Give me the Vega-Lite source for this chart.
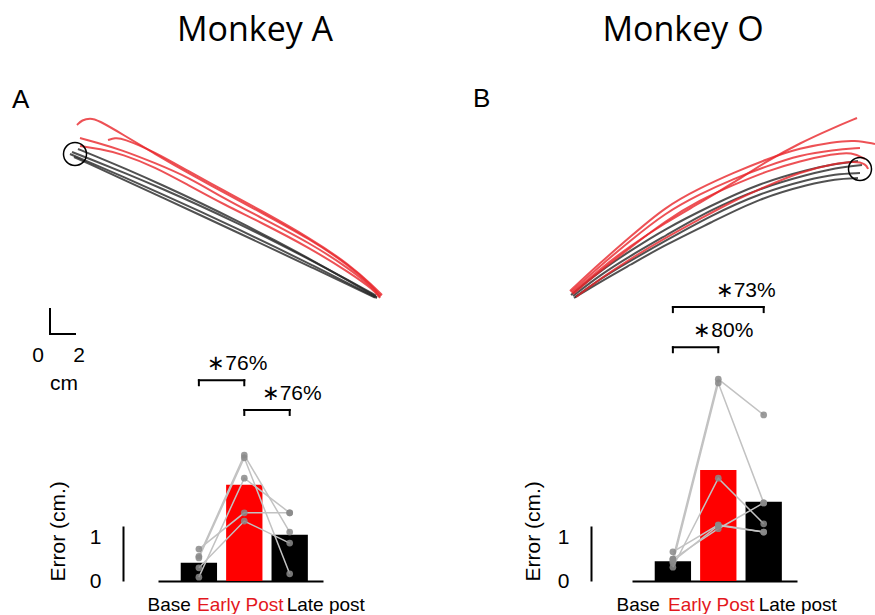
{
  "$schema": "https://vega.github.io/schema/vega-lite/v6.json",
  "background": "white",
  "padding": {"left": 12, "top": 14, "right": 0, "bottom": 0},
  "columns": 2,
  "bounds": "flush",
  "spacing": {"row": 15, "column": 280},
  "resolve": {"scale": {"color": "independent"}},
  "config": {"view": {"stroke": null}, "axis": {"grid": false}},
  "datasets": {
    "trajA": [
      {"trial": "a1", "phase": "Base", "x": -0.4, "y": 0}, {"trial": "a1", "phase": "Base", "x": 1.0, "y": -0.59}, {"trial": "a1", "phase": "Base", "x": 4.0, "y": -1.89}, {"trial": "a1", "phase": "Base", "x": 7.0, "y": -3.22}, {"trial": "a1", "phase": "Base", "x": 10.0, "y": -4.58}, {"trial": "a1", "phase": "Base", "x": 13.0, "y": -5.99}, {"trial": "a1", "phase": "Base", "x": 16.0, "y": -7.43}, {"trial": "a1", "phase": "Base", "x": 19.0, "y": -8.9}, {"trial": "a1", "phase": "Base", "x": 22.0, "y": -10.41}, {"trial": "a1", "phase": "Base", "x": 24.16, "y": -11.52},
      {"trial": "a2", "phase": "Base", "x": -0.24, "y": 0.16}, {"trial": "a2", "phase": "Base", "x": 1.0, "y": -0.32}, {"trial": "a2", "phase": "Base", "x": 4.0, "y": -1.52}, {"trial": "a2", "phase": "Base", "x": 7.0, "y": -2.79}, {"trial": "a2", "phase": "Base", "x": 10.0, "y": -4.13}, {"trial": "a2", "phase": "Base", "x": 13.0, "y": -5.54}, {"trial": "a2", "phase": "Base", "x": 16.0, "y": -7.01}, {"trial": "a2", "phase": "Base", "x": 19.0, "y": -8.56}, {"trial": "a2", "phase": "Base", "x": 22.0, "y": -10.17}, {"trial": "a2", "phase": "Base", "x": 24.08, "y": -11.33},
      {"trial": "a3", "phase": "Base", "x": -0.08, "y": -0.24}, {"trial": "a3", "phase": "Base", "x": 1.0, "y": -0.73}, {"trial": "a3", "phase": "Base", "x": 4.0, "y": -2.1}, {"trial": "a3", "phase": "Base", "x": 7.0, "y": -3.49}, {"trial": "a3", "phase": "Base", "x": 10.0, "y": -4.88}, {"trial": "a3", "phase": "Base", "x": 13.0, "y": -6.28}, {"trial": "a3", "phase": "Base", "x": 16.0, "y": -7.69}, {"trial": "a3", "phase": "Base", "x": 19.0, "y": -9.1}, {"trial": "a3", "phase": "Base", "x": 22.0, "y": -10.53}, {"trial": "a3", "phase": "Base", "x": 24.0, "y": -11.49},
      {"trial": "a4", "phase": "Base", "x": 0.24, "y": 0.4}, {"trial": "a4", "phase": "Base", "x": 1.6, "y": -0.15}, {"trial": "a4", "phase": "Base", "x": 4.0, "y": -1.16}, {"trial": "a4", "phase": "Base", "x": 7.0, "y": -2.49}, {"trial": "a4", "phase": "Base", "x": 10.0, "y": -3.89}, {"trial": "a4", "phase": "Base", "x": 13.0, "y": -5.36}, {"trial": "a4", "phase": "Base", "x": 16.0, "y": -6.9}, {"trial": "a4", "phase": "Base", "x": 19.0, "y": -8.51}, {"trial": "a4", "phase": "Base", "x": 22.0, "y": -10.2}, {"trial": "a4", "phase": "Base", "x": 24.16, "y": -11.46},
      {"trial": "a5", "phase": "Early Post", "x": 0.16, "y": 2.32}, {"trial": "a5", "phase": "Early Post", "x": 0.56, "y": 2.72}, {"trial": "a5", "phase": "Early Post", "x": 1.2, "y": 2.88}, {"trial": "a5", "phase": "Early Post", "x": 1.84, "y": 2.72}, {"trial": "a5", "phase": "Early Post", "x": 3.76, "y": 1.6}, {"trial": "a5", "phase": "Early Post", "x": 6.4, "y": 0}, {"trial": "a5", "phase": "Early Post", "x": 9.04, "y": -1.52}, {"trial": "a5", "phase": "Early Post", "x": 12.0, "y": -3.12}, {"trial": "a5", "phase": "Early Post", "x": 14.8, "y": -4.64}, {"trial": "a5", "phase": "Early Post", "x": 18.8, "y": -6.8}, {"trial": "a5", "phase": "Early Post", "x": 22.0, "y": -8.96}, {"trial": "a5", "phase": "Early Post", "x": 23.76, "y": -10.56}, {"trial": "a5", "phase": "Early Post", "x": 24.48, "y": -11.36},
      {"trial": "a6", "phase": "Early Post", "x": 0.4, "y": 1.28}, {"trial": "a6", "phase": "Early Post", "x": 1.6, "y": 0.96}, {"trial": "a6", "phase": "Early Post", "x": 3.76, "y": 0.32}, {"trial": "a6", "phase": "Early Post", "x": 6.4, "y": -0.72}, {"trial": "a6", "phase": "Early Post", "x": 9.04, "y": -1.84}, {"trial": "a6", "phase": "Early Post", "x": 12.0, "y": -3.6}, {"trial": "a6", "phase": "Early Post", "x": 14.8, "y": -5.04}, {"trial": "a6", "phase": "Early Post", "x": 18.8, "y": -7.12}, {"trial": "a6", "phase": "Early Post", "x": 22.0, "y": -9.2}, {"trial": "a6", "phase": "Early Post", "x": 23.84, "y": -10.72}, {"trial": "a6", "phase": "Early Post", "x": 24.4, "y": -11.44},
      {"trial": "a7", "phase": "Early Post", "x": 2.64, "y": 1.12}, {"trial": "a7", "phase": "Early Post", "x": 3.2, "y": 1.28}, {"trial": "a7", "phase": "Early Post", "x": 3.76, "y": 1.28}, {"trial": "a7", "phase": "Early Post", "x": 6.4, "y": 0.16}, {"trial": "a7", "phase": "Early Post", "x": 9.04, "y": -1.36}, {"trial": "a7", "phase": "Early Post", "x": 12.0, "y": -2.96}, {"trial": "a7", "phase": "Early Post", "x": 14.8, "y": -4.48}, {"trial": "a7", "phase": "Early Post", "x": 18.8, "y": -6.72}, {"trial": "a7", "phase": "Early Post", "x": 22.0, "y": -8.88}, {"trial": "a7", "phase": "Early Post", "x": 23.84, "y": -10.56}, {"trial": "a7", "phase": "Early Post", "x": 24.56, "y": -11.28},
      {"trial": "a8", "phase": "Early Post", "x": 0.4, "y": 0.64}, {"trial": "a8", "phase": "Early Post", "x": 2.0, "y": 0.4}, {"trial": "a8", "phase": "Early Post", "x": 3.76, "y": 0}, {"trial": "a8", "phase": "Early Post", "x": 6.4, "y": -1.04}, {"trial": "a8", "phase": "Early Post", "x": 9.04, "y": -2.48}, {"trial": "a8", "phase": "Early Post", "x": 12.0, "y": -4.08}, {"trial": "a8", "phase": "Early Post", "x": 14.8, "y": -5.44}, {"trial": "a8", "phase": "Early Post", "x": 18.8, "y": -7.52}, {"trial": "a8", "phase": "Early Post", "x": 22.0, "y": -9.52}, {"trial": "a8", "phase": "Early Post", "x": 23.92, "y": -10.88}, {"trial": "a8", "phase": "Early Post", "x": 24.4, "y": -11.52}
    ],
    "trajB": [
      {"trial": "b1", "phase": "Base", "x": -23.12, "y": -10.08}, {"trial": "b1", "phase": "Base", "x": -20.8, "y": -8.16}, {"trial": "b1", "phase": "Base", "x": -18.4, "y": -6.56}, {"trial": "b1", "phase": "Base", "x": -15.6, "y": -4.8}, {"trial": "b1", "phase": "Base", "x": -12.0, "y": -2.96}, {"trial": "b1", "phase": "Base", "x": -8.0, "y": -1.12}, {"trial": "b1", "phase": "Base", "x": -4.0, "y": 0}, {"trial": "b1", "phase": "Base", "x": -2.0, "y": 0.4}, {"trial": "b1", "phase": "Base", "x": -0.16, "y": 0.64},
      {"trial": "b2", "phase": "Base", "x": -22.96, "y": -10.16}, {"trial": "b2", "phase": "Base", "x": -20.8, "y": -8.48}, {"trial": "b2", "phase": "Base", "x": -18.4, "y": -6.96}, {"trial": "b2", "phase": "Base", "x": -15.6, "y": -5.36}, {"trial": "b2", "phase": "Base", "x": -12.0, "y": -3.28}, {"trial": "b2", "phase": "Base", "x": -8.0, "y": -1.52}, {"trial": "b2", "phase": "Base", "x": -4.0, "y": -0.4}, {"trial": "b2", "phase": "Base", "x": -2.0, "y": 0.08}, {"trial": "b2", "phase": "Base", "x": 0.16, "y": 0.32},
      {"trial": "b3", "phase": "Base", "x": -22.8, "y": -10.24}, {"trial": "b3", "phase": "Base", "x": -20.8, "y": -8.8}, {"trial": "b3", "phase": "Base", "x": -18.4, "y": -7.36}, {"trial": "b3", "phase": "Base", "x": -15.6, "y": -5.76}, {"trial": "b3", "phase": "Base", "x": -12.0, "y": -3.76}, {"trial": "b3", "phase": "Base", "x": -8.0, "y": -1.92}, {"trial": "b3", "phase": "Base", "x": -4.0, "y": -0.8}, {"trial": "b3", "phase": "Base", "x": -2.0, "y": -0.4}, {"trial": "b3", "phase": "Base", "x": 0, "y": -0.32},
      {"trial": "b4", "phase": "Base", "x": -22.88, "y": -10.32}, {"trial": "b4", "phase": "Base", "x": -20.8, "y": -9.04}, {"trial": "b4", "phase": "Base", "x": -18.4, "y": -7.68}, {"trial": "b4", "phase": "Base", "x": -15.6, "y": -6.08}, {"trial": "b4", "phase": "Base", "x": -12.0, "y": -4.32}, {"trial": "b4", "phase": "Base", "x": -8.0, "y": -2.32}, {"trial": "b4", "phase": "Base", "x": -4.0, "y": -1.2}, {"trial": "b4", "phase": "Base", "x": -2.0, "y": -0.8}, {"trial": "b4", "phase": "Base", "x": -0.16, "y": -0.72},
      {"trial": "b5", "phase": "Early Post", "x": -23.04, "y": -9.92}, {"trial": "b5", "phase": "Early Post", "x": -20.8, "y": -8.0}, {"trial": "b5", "phase": "Early Post", "x": -18.4, "y": -6.16}, {"trial": "b5", "phase": "Early Post", "x": -15.6, "y": -4.32}, {"trial": "b5", "phase": "Early Post", "x": -12.8, "y": -2.72}, {"trial": "b5", "phase": "Early Post", "x": -10.16, "y": -1.12}, {"trial": "b5", "phase": "Early Post", "x": -7.44, "y": 0.64}, {"trial": "b5", "phase": "Early Post", "x": -4.8, "y": 2.08}, {"trial": "b5", "phase": "Early Post", "x": -2.16, "y": 3.28}, {"trial": "b5", "phase": "Early Post", "x": -0.24, "y": 4.08},
      {"trial": "b6", "phase": "Early Post", "x": -23.2, "y": -9.76}, {"trial": "b6", "phase": "Early Post", "x": -20.8, "y": -7.52}, {"trial": "b6", "phase": "Early Post", "x": -18.4, "y": -5.44}, {"trial": "b6", "phase": "Early Post", "x": -15.6, "y": -3.04}, {"trial": "b6", "phase": "Early Post", "x": -12.8, "y": -1.52}, {"trial": "b6", "phase": "Early Post", "x": -10.16, "y": -0.32}, {"trial": "b6", "phase": "Early Post", "x": -7.44, "y": 0.8}, {"trial": "b6", "phase": "Early Post", "x": -4.8, "y": 1.68}, {"trial": "b6", "phase": "Early Post", "x": -2.16, "y": 2.16}, {"trial": "b6", "phase": "Early Post", "x": -0.4, "y": 2.32}, {"trial": "b6", "phase": "Early Post", "x": 1.2, "y": 2.0},
      {"trial": "b7", "phase": "Early Post", "x": -23.12, "y": -9.84}, {"trial": "b7", "phase": "Early Post", "x": -20.8, "y": -7.76}, {"trial": "b7", "phase": "Early Post", "x": -18.4, "y": -5.76}, {"trial": "b7", "phase": "Early Post", "x": -15.6, "y": -3.52}, {"trial": "b7", "phase": "Early Post", "x": -12.8, "y": -2.0}, {"trial": "b7", "phase": "Early Post", "x": -10.16, "y": -0.8}, {"trial": "b7", "phase": "Early Post", "x": -7.44, "y": 0.24}, {"trial": "b7", "phase": "Early Post", "x": -4.8, "y": 1.12}, {"trial": "b7", "phase": "Early Post", "x": -2.16, "y": 1.52}, {"trial": "b7", "phase": "Early Post", "x": 0, "y": 1.68},
      {"trial": "b8", "phase": "Early Post", "x": -22.96, "y": -10.0}, {"trial": "b8", "phase": "Early Post", "x": -20.8, "y": -8.16}, {"trial": "b8", "phase": "Early Post", "x": -18.4, "y": -6.32}, {"trial": "b8", "phase": "Early Post", "x": -15.6, "y": -4.16}, {"trial": "b8", "phase": "Early Post", "x": -12.8, "y": -2.48}, {"trial": "b8", "phase": "Early Post", "x": -10.16, "y": -1.28}, {"trial": "b8", "phase": "Early Post", "x": -7.44, "y": -0.16}, {"trial": "b8", "phase": "Early Post", "x": -4.8, "y": 0.64}, {"trial": "b8", "phase": "Early Post", "x": -2.16, "y": 1.2}, {"trial": "b8", "phase": "Early Post", "x": -0.64, "y": 1.36}, {"trial": "b8", "phase": "Early Post", "x": 0.4, "y": 0.8},
      {"trial": "b9", "phase": "Early Post", "x": -22.72, "y": -10.24}, {"trial": "b9", "phase": "Early Post", "x": -20.8, "y": -8.8}, {"trial": "b9", "phase": "Early Post", "x": -18.4, "y": -7.2}, {"trial": "b9", "phase": "Early Post", "x": -15.6, "y": -5.52}, {"trial": "b9", "phase": "Early Post", "x": -12.8, "y": -4.0}, {"trial": "b9", "phase": "Early Post", "x": -10.16, "y": -2.56}, {"trial": "b9", "phase": "Early Post", "x": -7.44, "y": -1.36}, {"trial": "b9", "phase": "Early Post", "x": -4.8, "y": -0.24}, {"trial": "b9", "phase": "Early Post", "x": -2.16, "y": 0.4}, {"trial": "b9", "phase": "Early Post", "x": -0.4, "y": 0.64}, {"trial": "b9", "phase": "Early Post", "x": 0.48, "y": 0.4}, {"trial": "b9", "phase": "Early Post", "x": 0.64, "y": 0}
    ],
    "barsA": [
      {"phase": "Base", "err": 0.33}, {"phase": "Early Post", "err": 1.75}, {"phase": "Late post", "err": 0.84}
    ],
    "barsB": [
      {"phase": "Base", "err": 0.36}, {"phase": "Early Post", "err": 2.02}, {"phase": "Late post", "err": 1.44}
    ],
    "sessionsA": [
      {"session": 1, "phase": "Base", "err": 0.45}, {"session": 1, "phase": "Early Post", "err": 2.29}, {"session": 1, "phase": "Late post", "err": 0.89},
      {"session": 2, "phase": "Base", "err": 0.42}, {"session": 2, "phase": "Early Post", "err": 2.24}, {"session": 2, "phase": "Late post", "err": 0.13},
      {"session": 3, "phase": "Base", "err": 0.07}, {"session": 3, "phase": "Early Post", "err": 1.87}, {"session": 3, "phase": "Late post", "err": 1.24},
      {"session": 4, "phase": "Base", "err": 0.58}, {"session": 4, "phase": "Early Post", "err": 1.24}, {"session": 4, "phase": "Late post", "err": 1.24},
      {"session": 5, "phase": "Base", "err": 0.24}, {"session": 5, "phase": "Early Post", "err": 1.09}, {"session": 5, "phase": "Late post", "err": 0.69}
    ],
    "sessionsB": [
      {"session": 1, "phase": "Base", "err": 0.40}, {"session": 1, "phase": "Early Post", "err": 3.67}, {"session": 1, "phase": "Late post", "err": 3.02},
      {"session": 2, "phase": "Base", "err": 0.33}, {"session": 2, "phase": "Early Post", "err": 3.60}, {"session": 2, "phase": "Late post", "err": 1.42},
      {"session": 3, "phase": "Base", "err": 0.25}, {"session": 3, "phase": "Early Post", "err": 1.87}, {"session": 3, "phase": "Late post", "err": 1.04},
      {"session": 4, "phase": "Base", "err": 0.53}, {"session": 4, "phase": "Early Post", "err": 1.02}, {"session": 4, "phase": "Late post", "err": 0.89},
      {"session": 5, "phase": "Base", "err": 0.40}, {"session": 5, "phase": "Early Post", "err": 0.95}, {"session": 5, "phase": "Late post", "err": 1.42},
      {"session": 6, "phase": "Base", "err": 0.36}, {"session": 6, "phase": "Early Post", "err": 1.01}, {"session": 6, "phase": "Late post", "err": 0.89}
    ],
    "bracketsA": [
      {"from": "Base", "to": "Early Post", "level": 3.65, "label": "∗76%"},
      {"from": "Early Post", "to": "Late post", "level": 3.11, "label": "∗76%"}
    ],
    "bracketsB": [
      {"from": "Base", "to": "Late post", "level": 4.98, "label": "∗73%"},
      {"from": "Base", "to": "Early Post", "level": 4.25, "label": "∗80%"}
    ]
  },
  "concat": [
    {
      "title": {"text": "Monkey A", "frame": "group", "anchor": "middle", "font": "Open Sans", "fontSize": 34, "fontWeight": "normal", "color": "#000", "baseline": "alphabetic", "offset": -14},
      "width": 194,
      "height": 450,
      "layer": [
        {
          "data": {"name": "trajA"},
          "mark": {"type": "line", "strokeWidth": 2, "opacity": 0.8, "interpolate": "basis"},
          "encoding": {
            "x": {"field": "x", "type": "quantitative", "scale": {"domain": [6.64, 22.16], "nice": false, "zero": false}, "axis": null},
            "y": {"field": "y", "type": "quantitative", "scale": {"domain": [-28.56, 7.44], "nice": false, "zero": false}, "axis": null},
            "detail": {"field": "trial"},
            "color": {"field": "phase", "type": "nominal", "scale": {"domain": ["Base", "Early Post"], "range": ["#262626", "#e8262a"]}, "legend": null}
          }
        },
        {
          "data": {"values": [{}]},
          "mark": {"type": "point", "shape": "circle", "size": 530, "filled": false, "stroke": "#000", "strokeWidth": 1.5, "opacity": 1},
          "encoding": {"x": {"datum": 0, "type": "quantitative"}, "y": {"datum": 0, "type": "quantitative"}}
        },
        {
          "data": {"values": [{}]},
          "mark": {"type": "rule", "stroke": "#000", "strokeWidth": 2, "strokeCap": "square"},
          "encoding": {"x": {"datum": -2, "type": "quantitative"}, "y": {"datum": -14.4, "type": "quantitative"}, "y2": {"datum": -12.4}}
        },
        {
          "data": {"values": [{}]},
          "mark": {"type": "rule", "stroke": "#000", "strokeWidth": 2, "strokeCap": "square"},
          "encoding": {"x": {"datum": -2, "type": "quantitative"}, "x2": {"datum": 0}, "y": {"datum": -14.4, "type": "quantitative"}}
        },
        {
          "data": {"values": [{}]},
          "mark": {"type": "text", "text": "0", "font": "Liberation Sans", "fontSize": 21, "align": "center", "baseline": "middle", "color": "#000"},
          "encoding": {"x": {"datum": -2.96, "type": "quantitative"}, "y": {"datum": -16.16, "type": "quantitative"}}
        },
        {
          "data": {"values": [{}]},
          "mark": {"type": "text", "text": "2", "font": "Liberation Sans", "fontSize": 21, "align": "center", "baseline": "middle", "color": "#000"},
          "encoding": {"x": {"datum": 0.32, "type": "quantitative"}, "y": {"datum": -16.16, "type": "quantitative"}}
        },
        {
          "data": {"values": [{}]},
          "mark": {"type": "text", "text": "cm", "font": "Liberation Sans", "fontSize": 21, "align": "center", "baseline": "middle", "color": "#000"},
          "encoding": {"x": {"datum": -0.88, "type": "quantitative"}, "y": {"datum": -18.4, "type": "quantitative"}}
        },
        {
          "data": {"values": [{}]},
          "mark": {"type": "text", "text": "A", "font": "Liberation Sans", "fontSize": 26, "align": "left", "baseline": "alphabetic", "color": "#000"},
          "encoding": {"x": {"datum": -5.04, "type": "quantitative"}, "y": {"datum": 3.68, "type": "quantitative"}}
        }
      ]
    },
    {
      "title": {"text": "Monkey O", "frame": "group", "anchor": "middle", "font": "Open Sans", "fontSize": 34, "fontWeight": "normal", "color": "#000", "baseline": "alphabetic", "offset": -14},
      "width": 102,
      "height": 450,
      "layer": [
        {
          "data": {"name": "trajB"},
          "mark": {"type": "line", "strokeWidth": 2, "opacity": 0.8, "interpolate": "basis"},
          "encoding": {
            "x": {"field": "x", "type": "quantitative", "scale": {"domain": [-18.24, -10.08], "nice": false, "zero": false}, "axis": null},
            "y": {"field": "y", "type": "quantitative", "scale": {"domain": [-27.36, 8.64], "nice": false, "zero": false}, "axis": null},
            "detail": {"field": "trial"},
            "color": {"field": "phase", "type": "nominal", "scale": {"domain": ["Base", "Early Post"], "range": ["#262626", "#e8262a"]}, "legend": null}
          }
        },
        {
          "data": {"values": [{}]},
          "mark": {"type": "point", "shape": "circle", "size": 530, "filled": false, "stroke": "#000", "strokeWidth": 1.5, "opacity": 1},
          "encoding": {"x": {"datum": 0, "type": "quantitative"}, "y": {"datum": 0, "type": "quantitative"}}
        },
        {
          "data": {"values": [{}]},
          "mark": {"type": "text", "text": "B", "font": "Liberation Sans", "fontSize": 26, "align": "left", "baseline": "alphabetic", "color": "#000"},
          "encoding": {"x": {"datum": -30.96, "type": "quantitative"}, "y": {"datum": 4.96, "type": "quantitative"}}
        }
      ]
    },
    {
      "width": 165,
      "height": 55,
      "layer": [
        {
          "data": {"name": "barsA"},
          "mark": {"type": "bar"},
          "encoding": {
            "x": {"field": "phase", "type": "nominal", "scale": {"domain": ["Base", "Early Post", "Late post"], "paddingInner": 0.2, "paddingOuter": 0.417, "align": 0.6},
              "axis": {"title": null, "domain": true, "domainColor": "#000", "domainWidth": 2, "ticks": false, "tickSize": 0, "labelAngle": 0, "labelOverlap": false, "labelFont": "Liberation Sans", "labelFontSize": 19, "labelPadding": 14,
                "labelColor": {"condition": {"test": "datum.value === 'Early Post'", "value": "#e3171d"}, "value": "#000"},
                "labelAlign": {"condition": [{"test": "datum.value === 'Base'", "value": "right"}, {"test": "datum.value === 'Late post'", "value": "left"}], "value": "center"},
                "labelOffset": {"condition": [{"test": "datum.value === 'Base'", "value": -8}, {"test": "datum.value === 'Late post'", "value": -3}], "value": -4}}},
            "y": {"field": "err", "type": "quantitative", "scale": {"domain": [0, 1], "nice": false, "zero": true},
              "axis": {"values": [0, 1], "format": "d", "offset": 35, "domain": true, "domainColor": "#000", "domainWidth": 2, "ticks": false, "tickSize": 0, "labelFont": "Liberation Sans", "labelFontSize": 21, "labelColor": "#000", "labelPadding": 22,
                "labelBaseline": {"condition": {"test": "datum.value === 1", "value": "top"}, "value": "middle"},
                "title": "Error (cm.)", "titleFont": "Liberation Sans", "titleFontSize": 21, "titleFontWeight": "normal", "titleColor": "#000", "titleAnchor": "start", "titlePadding": 21}},
            "color": {"condition": {"test": "datum.phase === 'Early Post'", "value": "#ff0000"}, "value": "#000000"}
          }
        },
        {
          "data": {"name": "sessionsA"},
          "mark": {"type": "line", "color": "#c2c2c2", "strokeWidth": 1.5},
          "encoding": {"x": {"field": "phase", "type": "nominal"}, "y": {"field": "err", "type": "quantitative"}, "detail": {"field": "session"}}
        },
        {
          "data": {"name": "sessionsA"},
          "mark": {"type": "circle", "size": 45, "color": "#8a8a8a", "opacity": 0.85},
          "encoding": {"x": {"field": "phase", "type": "nominal"}, "y": {"field": "err", "type": "quantitative"}}
        },
        {
          "data": {"name": "bracketsA"},
          "mark": {"type": "rule", "stroke": "#000", "strokeWidth": 2, "strokeCap": "square"},
          "encoding": {"x": {"field": "from", "type": "nominal"}, "x2": {"field": "to"}, "y": {"field": "level", "type": "quantitative"}}
        },
        {
          "data": {"name": "bracketsA"},
          "mark": {"type": "rule", "stroke": "#000", "strokeWidth": 2, "strokeCap": "square", "y2Offset": 5},
          "encoding": {"x": {"field": "from", "type": "nominal"}, "y": {"field": "level", "type": "quantitative"}, "y2": {"field": "level"}}
        },
        {
          "data": {"name": "bracketsA"},
          "mark": {"type": "rule", "stroke": "#000", "strokeWidth": 2, "strokeCap": "square", "y2Offset": 5},
          "encoding": {"x": {"field": "to", "type": "nominal"}, "y": {"field": "level", "type": "quantitative"}, "y2": {"field": "level"}}
        },
        {
          "data": {"name": "bracketsA"},
          "transform": [{"filter": "datum.from === 'Base'"}],
          "mark": {"type": "text", "font": "Liberation Sans", "fontSize": 21, "align": "center", "baseline": "alphabetic", "dy": -10, "dx": -7, "color": "#000"},
          "encoding": {"x": {"field": "to", "type": "nominal"}, "y": {"field": "level", "type": "quantitative"}, "text": {"field": "label"}}
        },
        {
          "data": {"name": "bracketsA"},
          "transform": [{"filter": "datum.from !== 'Base'"}],
          "mark": {"type": "text", "font": "Liberation Sans", "fontSize": 21, "align": "center", "baseline": "alphabetic", "dy": -10, "dx": 2, "color": "#000"},
          "encoding": {"x": {"field": "to", "type": "nominal"}, "y": {"field": "level", "type": "quantitative"}, "text": {"field": "label"}}
        }
      ]
    },
    {
      "width": 165,
      "height": 55,
      "layer": [
        {
          "data": {"name": "barsB"},
          "mark": {"type": "bar"},
          "encoding": {
            "x": {"field": "phase", "type": "nominal", "scale": {"domain": ["Base", "Early Post", "Late post"], "paddingInner": 0.2, "paddingOuter": 0.417, "align": 0.6},
              "axis": {"title": null, "domain": true, "domainColor": "#000", "domainWidth": 2, "ticks": false, "tickSize": 0, "labelAngle": 0, "labelOverlap": false, "labelFont": "Liberation Sans", "labelFontSize": 19, "labelPadding": 14,
                "labelColor": {"condition": {"test": "datum.value === 'Early Post'", "value": "#e3171d"}, "value": "#000"},
                "labelAlign": {"condition": [{"test": "datum.value === 'Base'", "value": "right"}, {"test": "datum.value === 'Late post'", "value": "left"}], "value": "center"},
                "labelOffset": {"condition": [{"test": "datum.value === 'Base'", "value": -13}, {"test": "datum.value === 'Late post'", "value": -5}], "value": -7}}},
            "y": {"field": "err", "type": "quantitative", "scale": {"domain": [0, 1], "nice": false, "zero": true},
              "axis": {"values": [0, 1], "format": "d", "offset": 41, "domain": true, "domainColor": "#000", "domainWidth": 2, "ticks": false, "tickSize": 0, "labelFont": "Liberation Sans", "labelFontSize": 21, "labelColor": "#000", "labelPadding": 22,
                "labelBaseline": {"condition": {"test": "datum.value === 1", "value": "top"}, "value": "middle"},
                "title": "Error (cm.)", "titleFont": "Liberation Sans", "titleFontSize": 21, "titleFontWeight": "normal", "titleColor": "#000", "titleAnchor": "start", "titlePadding": 14}},
            "color": {"condition": {"test": "datum.phase === 'Early Post'", "value": "#ff0000"}, "value": "#000000"}
          }
        },
        {
          "data": {"name": "sessionsB"},
          "mark": {"type": "line", "color": "#c2c2c2", "strokeWidth": 1.5},
          "encoding": {"x": {"field": "phase", "type": "nominal"}, "y": {"field": "err", "type": "quantitative"}, "detail": {"field": "session"}}
        },
        {
          "data": {"name": "sessionsB"},
          "mark": {"type": "circle", "size": 45, "color": "#8a8a8a", "opacity": 0.85},
          "encoding": {"x": {"field": "phase", "type": "nominal"}, "y": {"field": "err", "type": "quantitative"}}
        },
        {
          "data": {"name": "bracketsB"},
          "mark": {"type": "rule", "stroke": "#000", "strokeWidth": 2, "strokeCap": "square"},
          "encoding": {"x": {"field": "from", "type": "nominal"}, "x2": {"field": "to"}, "y": {"field": "level", "type": "quantitative"}}
        },
        {
          "data": {"name": "bracketsB"},
          "mark": {"type": "rule", "stroke": "#000", "strokeWidth": 2, "strokeCap": "square", "y2Offset": 5},
          "encoding": {"x": {"field": "from", "type": "nominal"}, "y": {"field": "level", "type": "quantitative"}, "y2": {"field": "level"}}
        },
        {
          "data": {"name": "bracketsB"},
          "mark": {"type": "rule", "stroke": "#000", "strokeWidth": 2, "strokeCap": "square", "y2Offset": 5},
          "encoding": {"x": {"field": "to", "type": "nominal"}, "y": {"field": "level", "type": "quantitative"}, "y2": {"field": "level"}}
        },
        {
          "data": {"name": "bracketsB"},
          "transform": [{"filter": "datum.from === 'Base' && datum.to === 'Late post'"}],
          "mark": {"type": "text", "font": "Liberation Sans", "fontSize": 21, "align": "center", "baseline": "alphabetic", "dy": -10, "dx": -18, "color": "#000"},
          "encoding": {"x": {"field": "to", "type": "nominal"}, "y": {"field": "level", "type": "quantitative"}, "text": {"field": "label"}}
        },
        {
          "data": {"name": "bracketsB"},
          "transform": [{"filter": "!(datum.from === 'Base' && datum.to === 'Late post')"}],
          "mark": {"type": "text", "font": "Liberation Sans", "fontSize": 21, "align": "center", "baseline": "alphabetic", "dy": -10, "dx": 5, "color": "#000"},
          "encoding": {"x": {"field": "to", "type": "nominal"}, "y": {"field": "level", "type": "quantitative"}, "text": {"field": "label"}}
        }
      ]
    }
  ]
}
